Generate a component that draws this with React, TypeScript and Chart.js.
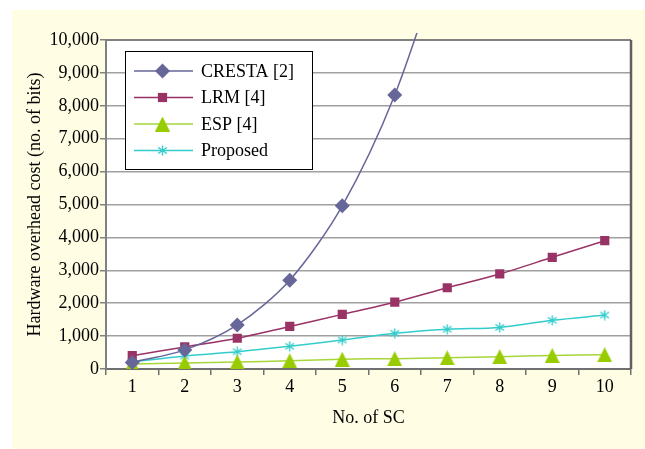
import React, { useEffect, useRef } from 'react';
import { Chart, registerables } from 'chart.js';

Chart.register(...registerables);

const categories = ['1', '2', '3', '4', '5', '6', '7', '8', '9', '10'];
const crestaValues = [200, 580, 1340, 2700, 4960, 8330, 13000, null, null, null];
const lrmValues = [405, 670, 935, 1295, 1660, 2030, 2470, 2890, 3395, 3900];
const espValues = [150, 185, 215, 250, 298, 315, 340, 375, 410, 435];
const proposedValues = [215, 395, 525, 690, 880, 1085, 1210, 1265, 1480, 1640];
const seriesNames = ['CRESTA [2]', 'LRM [4]', 'ESP [4]', 'Proposed'];
const yMin = 0;
const yMax = 10000;
const yStep = 1000;
const yTitle = 'Hardware overhead cost (no. of bits)';
const xTitle = 'No. of SC';

const FONT = 'Liberation Serif, Times New Roman, serif';
const C_CRESTA = '#666699';
const C_LRM = '#993366';
const C_ESP = '#99CC00';
const C_PROP = '#33CCCC';

function makeTriangle(): HTMLCanvasElement {
  const c = document.createElement('canvas');
  c.width = 15;
  c.height = 15;
  const g = c.getContext('2d')!;
  g.fillStyle = C_ESP;
  g.beginPath();
  g.moveTo(7.5, 0);
  g.lineTo(15, 15);
  g.lineTo(0, 15);
  g.closePath();
  g.fill();
  return c;
}

function makeStar(): HTMLCanvasElement {
  const c = document.createElement('canvas');
  c.width = 11;
  c.height = 11;
  const g = c.getContext('2d')!;
  g.strokeStyle = C_PROP;
  g.lineWidth = 1.4;
  g.beginPath();
  g.moveTo(5.5, 0.5);
  g.lineTo(5.5, 10.5);
  g.moveTo(1.2, 2.5);
  g.lineTo(9.8, 8.5);
  g.moveTo(1.2, 8.5);
  g.lineTo(9.8, 2.5);
  g.stroke();
  return c;
}

export default function App() {
  const ref = useRef<HTMLCanvasElement | null>(null);

  useEffect(() => {
    const canvas = ref.current;
    if (!canvas) return;
    const tri = makeTriangle();
    const star = makeStar();

    const bgPlugin = {
      id: 'bgPlugin',
      beforeDraw(chart: any) {
        const { ctx, chartArea } = chart;
        ctx.save();
        ctx.fillStyle = '#ffffff';
        ctx.fillRect(0, 0, chart.width, chart.height);
        ctx.fillStyle = '#FFFDE3';
        ctx.fillRect(12, 10, chart.width - 12, chart.height - 10);
        ctx.fillStyle = '#ffffff';
        ctx.fillRect(chartArea.left, chartArea.top, chartArea.right - chartArea.left, chartArea.bottom - chartArea.top);
        ctx.restore();
      },
      beforeDatasetsDraw(chart: any) {
        const { ctx, chartArea } = chart;
        ctx.save();
        ctx.strokeStyle = '#808080';
        ctx.lineWidth = 2;
        ctx.beginPath();
        ctx.moveTo(chartArea.left, chartArea.top);
        ctx.lineTo(chartArea.right, chartArea.top);
        ctx.stroke();
        ctx.strokeStyle = '#606060';
        ctx.lineWidth = 2.5;
        ctx.beginPath();
        ctx.moveTo(chartArea.right, chartArea.top);
        ctx.lineTo(chartArea.right, chartArea.bottom);
        ctx.stroke();
        ctx.restore();
      },
    };

    const legendPlugin = {
      id: 'boxLegend',
      afterDraw(chart: any) {
        const { ctx } = chart;
        ctx.save();
        ctx.fillStyle = '#ffffff';
        ctx.fillRect(125.5, 51.5, 187, 118);
        ctx.strokeStyle = '#000000';
        ctx.lineWidth = 1;
        ctx.strokeRect(125.5, 51.5, 187, 118);
        const rows = [71, 97.5, 124, 150.5];
        const colors = [C_CRESTA, C_LRM, '#A6D63A', C_PROP];
        rows.forEach((y, i) => {
          ctx.strokeStyle = colors[i];
          ctx.lineWidth = 1.5;
          ctx.beginPath();
          ctx.moveTo(134, y);
          ctx.lineTo(193, y);
          ctx.stroke();
          const cx = 162.5;
          if (i === 0) {
            ctx.fillStyle = C_CRESTA;
            ctx.beginPath();
            ctx.moveTo(cx, y - 7.5);
            ctx.lineTo(cx + 7.5, y);
            ctx.lineTo(cx, y + 7.5);
            ctx.lineTo(cx - 7.5, y);
            ctx.closePath();
            ctx.fill();
          } else if (i === 1) {
            ctx.fillStyle = C_LRM;
            ctx.fillRect(cx - 4.6, y - 4.6, 9.2, 9.2);
          } else if (i === 2) {
            ctx.drawImage(tri, cx - 7.5, y - 7.5);
          } else {
            ctx.drawImage(star, cx - 5.5, y - 5.5);
          }
          ctx.fillStyle = '#000000';
          ctx.font = `18px ${FONT}`;
          ctx.textBaseline = 'middle';
          ctx.textAlign = 'left';
          ctx.fillText(seriesNames[i], 201, y + 1);
        });
        ctx.restore();
      },
    };

    const fontSpec = { family: FONT, size: 18 };

    const chart = new Chart(canvas, {
      type: 'line',
      data: {
        labels: categories,
        datasets: [
          {
            label: seriesNames[0],
            data: crestaValues,
            borderColor: C_CRESTA,
            backgroundColor: C_CRESTA,
            borderWidth: 1.5,
            pointStyle: 'rectRot',
            pointRadius: 7.5,
            pointBorderWidth: 0,
            tension: 0.3,
            clip: { left: 0, top: 7, right: 0, bottom: 0 } as any,
          },
          {
            label: seriesNames[1],
            data: lrmValues,
            borderColor: C_LRM,
            backgroundColor: C_LRM,
            borderWidth: 1.5,
            pointStyle: 'rect',
            pointRadius: 6.5,
            pointBorderWidth: 0,
            tension: 0.3,
          },
          {
            label: seriesNames[2],
            data: espValues,
            borderColor: '#A6D63A',
            backgroundColor: C_ESP,
            borderWidth: 1.5,
            pointStyle: tri as any,
            pointRadius: 7.5,
            tension: 0.3,
          },
          {
            label: seriesNames[3],
            data: proposedValues,
            borderColor: C_PROP,
            backgroundColor: C_PROP,
            borderWidth: 1.5,
            pointStyle: star as any,
            pointRadius: 5.5,
            tension: 0.3,
          },
        ],
      },
      options: {
        responsive: false,
        animation: false,
        devicePixelRatio: 1,
        layout: { padding: { left: 12, top: 40, right: 14, bottom: 0 } },
        plugins: {
          legend: { display: false },
          tooltip: { enabled: false },
        },
        scales: {
          x: {
            offset: true,
            grid: {
              display: true,
              drawOnChartArea: false,
              drawTicks: true,
              tickLength: 6,
              offset: true,
              color: '#707070',
              tickColor: '#707070',
              lineWidth: 1.5,
            },
            border: { color: '#707070', width: 2 },
            ticks: { color: '#000', font: fontSpec, padding: 1, maxRotation: 0, autoSkip: false },
            title: { display: true, text: xTitle, color: '#000', font: fontSpec, padding: { top: 0, bottom: 20 } },
            afterFit: (s: any) => {
              s.height = 80;
            },
          },
          y: {
            min: yMin,
            max: yMax,
            ticks: {
              stepSize: yStep,
              color: '#000',
              font: fontSpec,
              padding: 1,
              callback: (v: any) => Number(v).toLocaleString('en-US'),
            },
            grid: { color: '#A0A0A0', lineWidth: 1.5, tickLength: 6, tickColor: '#808080' },
            border: { color: '#808080', width: 2 },
            title: { display: true, text: yTitle, color: '#000', font: fontSpec, padding: { top: 12, bottom: 0 } },
            afterFit: (s: any) => {
              s.width = 94;
            },
          },
        },
      },
      plugins: [bgPlugin, legendPlugin],
    });

    return () => chart.destroy();
  }, []);

  return (
    <div style={{ position: 'fixed', left: 0, top: 0, width: 645, height: 449, background: '#fff' }}>
      <canvas ref={ref} width={645} height={449} style={{ display: 'block', width: 645, height: 449 }} />
    </div>
  );
}
